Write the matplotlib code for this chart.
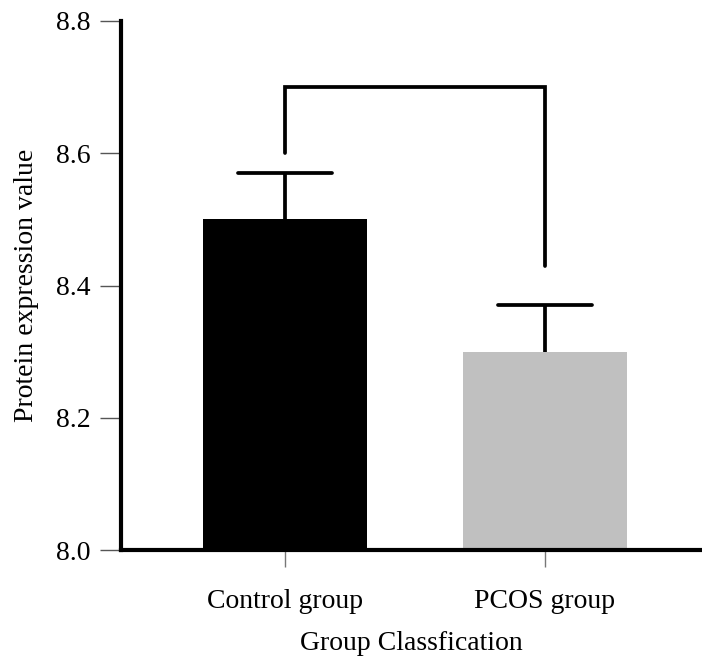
import matplotlib
matplotlib.use("Agg")
import matplotlib.pyplot as plt

categories = ["Control group", "PCOS group"]
means = [8.50, 8.30]
err_upper = [0.07, 0.07]
bar_colors = ["#000000", "#c0c0c0"]
yticks = [8.0, 8.2, 8.4, 8.6, 8.8]
bracket_left_bottom = 8.60
bracket_top = 8.70
bracket_right_bottom = 8.43

plt.rcParams["font.family"] = ["Liberation Serif", "DejaVu Serif"]

fig = plt.figure(figsize=(7.02, 6.59), dpi=100)
ax = fig.add_axes([121/702, 1 - 550/659, 1 - 121/702, (550 - 21)/659])

x = [0, 1]
ax.bar(x, [m - 8.0 for m in means], bottom=8.0, width=0.632, color=bar_colors, zorder=2)

tops = [m + e for m, e in zip(means, err_upper)]
cap_half = 0.18
ax.vlines(x, means, tops, colors="black", lw=2.7, zorder=3)
ax.hlines(tops, [xi - cap_half for xi in x], [xi + cap_half for xi in x],
          colors="black", lw=2.7, zorder=3, capstyle="round")

bx = [x[0], x[0], x[1], x[1]]
by = [bracket_left_bottom, bracket_top, bracket_top, bracket_right_bottom]
ax.plot(bx, by, color="black", lw=2.7, solid_capstyle="round", solid_joinstyle="miter", zorder=3)

ax.set_xlim(-0.631, 1.604)
ax.set_ylim(8.0, 8.8)
ax.set_yticks(yticks)
ax.set_yticklabels([f"{t:.1f}" for t in yticks])
ax.set_xticks(x)
ax.set_xticklabels(categories)

for s in ["top", "right"]:
    ax.spines[s].set_visible(False)
for s in ["left", "bottom"]:
    ax.spines[s].set_linewidth(3)
    ax.spines[s].set_zorder(4)

ax.tick_params(axis="y", length=15, width=1, color="#555555", labelsize=20, pad=7)
ax.tick_params(axis="x", length=12, width=1, color="#777777", labelsize=20, pad=16)

ax.set_ylabel("Protein expression value", fontsize=20, labelpad=12)
ax.set_xlabel("Group Classfication", fontsize=20, labelpad=12)

fig.savefig("out.png", dpi=100)
